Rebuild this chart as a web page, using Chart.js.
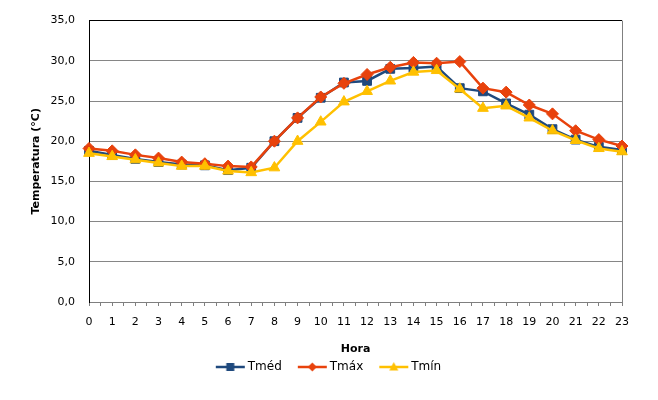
<!DOCTYPE html>
<html>
<head>
<meta charset="utf-8">
<script src="https://cdn.jsdelivr.net/npm/chart.js@4.4.1/dist/chart.umd.min.js"></script>
<style>
  html, body { margin: 0; padding: 0; background: #fff; }
  #wrap { width: 658px; height: 400px; }
</style>
</head>
<body>
<div id="wrap"><canvas id="c" width="658" height="400"></canvas></div>
<script>
const hours = [0,1,2,3,4,5,6,7,8,9,10,11,12,13,14,15,16,17,18,19,20,21,22,23];
const hourLabels = ['0','1','2','3','4','5','6','7','8','9','10','11','12','13','14','15','16','17','18','19','20','21','22','23'];
const tMed = [18.8,18.3,17.8,17.4,17.1,17.0,16.4,16.7,20.0,22.9,25.4,27.3,27.5,29.0,29.1,29.3,26.6,26.2,24.7,23.3,21.5,20.2,19.3,18.9];
const tMax = [19.1,18.8,18.3,17.9,17.4,17.2,16.9,16.8,20.0,22.9,25.5,27.2,28.3,29.2,29.8,29.7,29.9,26.6,26.1,24.5,23.4,21.3,20.2,19.4];
const tMin = [18.5,18.1,17.7,17.3,16.9,16.9,16.3,16.1,16.7,20.0,22.4,24.9,26.2,27.5,28.6,28.8,26.5,24.1,24.4,22.9,21.3,20.1,19.1,18.7];
const seriesNames = ['Tméd','Tmáx','Tmín'];
const yTickValues = [0,5,10,15,20,25,30,35];

const FONT = 'DejaVu Sans';
const colMed = '#1F497D', colMax = '#E8420C', colMin = '#FFC000';

function legendImage(color, shape) {
  const c = document.createElement('canvas');
  c.width = 44; c.height = 14;
  const g = c.getContext('2d');
  g.strokeStyle = color; g.fillStyle = color; g.lineWidth = 2.5;
  g.beginPath(); g.moveTo(12, 7); g.lineTo(41, 7); g.stroke();
  const cx = 26.5, cy = 7;
  g.beginPath();
  if (shape === 'rect') {
    g.rect(cx - 4, cy - 4, 8, 8);
  } else if (shape === 'rectRot') {
    g.moveTo(cx, cy - 4.5); g.lineTo(cx + 4.5, cy); g.lineTo(cx, cy + 4.5); g.lineTo(cx - 4.5, cy); g.closePath();
  } else {
    g.moveTo(cx, cy - 5); g.lineTo(cx + 4.5, cy + 3.5); g.lineTo(cx - 4.5, cy + 3.5); g.closePath();
  }
  g.fill();
  return c;
}

function pts(arr) { return hours.map((h, i) => ({ x: h, y: arr[i] })); }

const styles = [
  { color: colMed, shape: 'rect', r: 6.2, order: 2 },
  { color: colMax, shape: 'rectRot', r: 6, order: 1 },
  { color: colMin, shape: 'triangle', r: 6.2, order: 0 }
];
const values = [tMed, tMax, tMin];
const legendImgs = styles.map(s => legendImage(s.color, s.shape));

const datasets = values.map((v, i) => ({
  label: seriesNames[i],
  data: pts(v),
  borderColor: styles[i].color,
  backgroundColor: styles[i].color,
  pointBackgroundColor: styles[i].color,
  pointBorderColor: styles[i].color,
  pointBorderWidth: 1,
  pointStyle: styles[i].shape,
  pointRadius: styles[i].r,
  borderWidth: 2.5,
  tension: 0,
  order: styles[i].order,
  clip: false
}));

new Chart(document.getElementById('c'), {
  type: 'line',
  data: { datasets },
  options: {
    responsive: false,
    animation: false,
    devicePixelRatio: 1,
    layout: { padding: { left: 29, right: 36, top: 17, bottom: 17 } },
    font: { family: FONT, size: 11 },
    color: '#000',
    plugins: {
      tooltip: { enabled: false },
      title: { display: false },
      legend: {
        position: 'bottom',
        align: 'center',
        labels: {
          usePointStyle: true,
          pointStyleWidth: 32,
          padding: 10,
          color: '#000',
          font: { family: FONT, size: 12 },
          generateLabels: (chart) => chart.data.datasets.map((ds, i) => ({
            text: ds.label,
            pointStyle: legendImgs[i],
            datasetIndex: i,
            fontColor: '#000',
            hidden: false,
            lineWidth: 0,
            strokeStyle: 'rgba(0,0,0,0)',
            fillStyle: 'rgba(0,0,0,0)'
          }))
        }
      }
    },
    scales: {
      x: {
        type: 'linear',
        min: 0,
        max: 23,
        afterFit: (s) => { s.height = 49; },
        border: { display: true, color: '#7f7f7f', width: 1 },
        grid: {
          drawOnChartArea: true,
          drawTicks: true,
          tickLength: 4,
          tickColor: '#7f7f7f',
          color: (ctx) => (ctx.tick && ctx.tick.value === 23) ? '#808080' : 'rgba(0,0,0,0)',
          lineWidth: 1
        },
        ticks: {
          stepSize: 0.5,
          autoSkip: false,
          maxRotation: 0,
          padding: 10,
          color: '#000',
          font: { family: FONT, size: 11 },
          callback: (v) => Number.isInteger(v) ? hourLabels[v] : ''
        },
        title: {
          display: true,
          text: 'Hora',
          color: '#000',
          font: { family: FONT, size: 11, weight: 'bold' },
          padding: { top: 0, bottom: -4.6 }
        }
      },
      y: {
        min: 0,
        max: 35,
        afterFit: (s) => { s.width = 60; },
        afterBuildTicks: (s) => { s.ticks = yTickValues.map(v => ({ value: v })); },
        border: { display: true, color: '#000', width: 1 },
        grid: {
          drawTicks: false,
          color: (ctx) => (ctx.tick && ctx.tick.value === 35) ? '#000' : '#868686',
          lineWidth: 1
        },
        ticks: {
          padding: 14,
          color: '#000',
          font: { family: FONT, size: 11 },
          callback: (v) => v.toFixed(1).replace('.', ',')
        },
        title: {
          display: true,
          text: 'Temperatura (°C)',
          color: '#000',
          font: { family: FONT, size: 11, weight: 'bold' },
          padding: { top: 0.4, bottom: 0 }
        }
      }
    }
  }
});
</script>
</body>
</html>
